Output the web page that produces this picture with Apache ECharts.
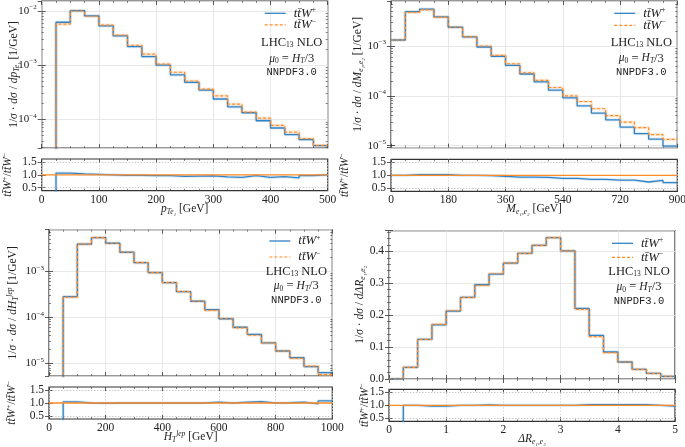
<!DOCTYPE html>
<html><head><meta charset="utf-8">
<script src="https://cdn.jsdelivr.net/npm/echarts@6/dist/echarts.min.js"></script>
<style>html,body{margin:0;padding:0;background:#fff}#c{width:685px;height:447px}</style>
</head><body><div id="c"></div>
<script>
// ---------------- data ----------------
const ptEdges = [0,25,50,75,100,125,150,175,200,225,250,275,300,325,350,375,400,425,450,475,500];
const ptWp = [0,6.2e-3,1.02e-2,8.1e-3,5.3e-3,3.47e-3,2.2e-3,1.44e-3,1.0e-3,6.6e-4,4.8e-4,3.47e-4,2.37e-4,1.7e-4,1.32e-4,9.4e-5,6.9e-5,5.2e-5,4.2e-5,3.25e-5];
const ptWm = [0,5.7e-3,1.0e-2,8.0e-3,5.5e-3,3.6e-3,2.33e-3,1.6e-3,1.04e-3,7.4e-4,5.1e-4,3.6e-4,2.7e-4,1.9e-4,1.36e-4,1.05e-4,7.7e-5,5.8e-5,4.4e-5,3.3e-5];
const ptRatio = [0,1.07,1.04,1.02,1.0,0.98,0.98,0.97,0.97,0.94,0.95,0.96,0.92,0.90,0.97,0.90,0.93,0.88,0.97,1.0];

const mEdges = [0,45,90,135,180,225,270,315,360,405,450,495,540,585,630,675,720,765,810,855,900];
const mWp = [1.32e-3,4.9e-3,5.5e-3,3.84e-3,2.38e-3,1.52e-3,9.55e-4,6.2e-4,4.1e-4,2.74e-4,1.9e-4,1.3e-4,9.1e-5,6.3e-5,4.5e-5,3.3e-5,2.36e-5,1.75e-5,1.35e-5,9.8e-6];
const mWm = [1.32e-3,4.75e-3,5.3e-3,3.8e-3,2.38e-3,1.52e-3,1.0e-3,6.5e-4,4.4e-4,2.9e-4,2.04e-4,1.47e-4,1.0e-4,7.7e-5,5.5e-5,4.0e-5,2.97e-5,2.3e-5,1.66e-5,1.34e-5];
const mRatio = [1.0,1.03,1.03,1.03,1.0,1.0,0.99,0.96,0.93,0.93,0.92,0.88,0.88,0.84,0.84,0.81,0.81,0.74,0.80,0.72];

const htEdges = [0,50,100,150,200,250,300,350,400,450,500,550,600,650,700,750,800,850,900,950,1000];
const htWp = [0,2.8e-4,3.87e-3,5.4e-3,4.06e-3,2.59e-3,1.54e-3,9.35e-4,5.67e-4,3.61e-4,2.23e-4,1.47e-4,9.3e-5,6.07e-5,4.27e-5,2.77e-5,1.85e-5,1.33e-5,8.5e-6,6.27e-6];
const htWm = [0,2.75e-4,3.87e-3,5.4e-3,4.06e-3,2.59e-3,1.54e-3,9.35e-4,5.67e-4,3.61e-4,2.23e-4,1.42e-4,9.3e-5,5.9e-5,4.07e-5,2.77e-5,1.84e-5,1.28e-5,8.7e-6,5.7e-6];
const htRatio = [0,1.04,1.0,0.99,1.0,1.0,1.0,1.0,1.0,1.0,1.0,1.03,1.0,1.03,1.05,1.0,1.01,1.03,0.97,1.08];

const drEdges = [0,0.25,0.5,0.75,1,1.25,1.5,1.75,2,2.25,2.5,2.75,3,3.25,3.5,3.75,4,4.25,4.5,4.75,5];
const drWp = [0,0.0366,0.124,0.170,0.213,0.256,0.2955,0.329,0.3635,0.394,0.419,0.443,0.402,0.2214,0.1368,0.0846,0.0533,0.0303,0.0178,0.0084];
const drWm = [0,0.0366,0.124,0.171,0.214,0.256,0.2935,0.330,0.3635,0.394,0.419,0.443,0.402,0.218,0.1326,0.0825,0.0533,0.0303,0.0178,0.0086];
const drRatio = [0,1.0,0.97,0.97,1.0,1.0,1.02,1.0,1.0,1.0,1.0,1.0,1.0,1.03,1.03,1.03,1.03,1.03,1.0,0.97];

const ratioRef = 1.0;
const ratioTicks = [0.5, 1.0, 1.5];
const legendTexts = ['LHC{sub|13} NLO', '{i|μ}{sub|0} = {i|H}{subi|T}/3', 'NNPDF3.0'];

// ---------------- style ----------------
const SERIF = "'Liberation Serif','DejaVu Serif',serif";
const MONO = "'Liberation Mono','DejaVu Sans Mono',monospace";
const BLUE = '#3283c3', ORANGE = '#ff8a26';
const BLUE_L = 'rgba(50,131,195,0.16)', ORANGE_L = 'rgba(255,138,38,0.18)';
const INK = '#222';
const FS = 11.5;
const rich = {
  i: {fontFamily: SERIF, fontStyle: 'italic', fontSize: FS, lineHeight: 14, color: INK},
  li: {fontFamily: SERIF, fontStyle: 'italic', fontSize: 13, lineHeight: 14, color: INK},
  tk: {fontFamily: SERIF, fontSize: 11, lineHeight: 14, color: INK},
  sub: {fontFamily: SERIF, fontSize: 7.5, lineHeight: 7, verticalAlign: 'bottom', color: INK},
  subi: {fontFamily: SERIF, fontStyle: 'italic', fontSize: 7.5, lineHeight: 7, verticalAlign: 'bottom', color: INK},
  sup: {fontFamily: SERIF, fontSize: 7.5, lineHeight: 7, verticalAlign: 'top', color: INK},
  tsup: {fontFamily: SERIF, fontSize: 7, lineHeight: 7, verticalAlign: 'top', color: INK},
  supi: {fontFamily: SERIF, fontStyle: 'italic', fontSize: 7.5, lineHeight: 7, verticalAlign: 'top', color: INK}
};
const ratioName = '{i|tt\u0304W}{sup|+}/{i|tt\u0304W}{sup|−}';

const panels = [
  {edges: ptEdges, wp: ptWp, wm: ptWm, ratio: ptRatio, xMax: 500, xInt: 100, xMinor: 4,
   log: true, yMin: 2.95e-5, yMax: 1.53e-2,
   left: 41.7, top: 1, width: 286, height: 147, rTop: 159, rHeight: 31.7,
   xName: '{i|p}{subi|Te₁} [GeV]', yName: '1/{i|σ} · {i|dσ} / {i|dp}{subi|Te₁} [1/GeV]',
   yGap: 21, rGap: 27, xGap: 11, leg: [12.3, 23.8, 41.3, 57.5, 71.7]},
  {edges: mEdges, wp: mWp, wm: mWm, ratio: mRatio, xMax: 900, xInt: 180, xMinor: 4,
   log: true, yMin: 9.1e-6, yMax: 8.0e-3,
   left: 391, top: 1, width: 286.3, height: 146.7, rTop: 159.3, rHeight: 32,
   xName: '{i|M}{subi|e₁,e₂} [GeV]', yName: '1/{i|σ} · {i|dσ} / {i|dM}{subi|e₁,e₂} [1/GeV]',
   yGap: 26, rGap: 39, xGap: 11, leg: [12.3, 24.3, 41.3, 57.3, 71.7]},
  {edges: htEdges, wp: htWp, wm: htWm, ratio: htRatio, xMax: 1000, xInt: 200, xMinor: 4,
   log: true, yMin: 5.3e-6, yMax: 8.0e-3,
   left: 49, top: 229.7, width: 283.3, height: 146.3, rTop: 387, rHeight: 32,
   xName: '{i|H}{subi|T}{supi|lep} [GeV]', yName: '1/{i|σ} · {i|dσ} / {i|dH}{subi|T}{supi|lep} [1/GeV]',
   yGap: 29, rGap: 30, xGap: 11, leg: [11.3, 27.3, 41.6, 56.3, 71]},
  {edges: drEdges, wp: drWp, wm: drWm, ratio: drRatio, xMax: 5, xInt: 1, xMinor: 4,
   log: false, yMin: 0, yMax: 0.465, yInt: 0.1,
   left: 389, top: 230.7, width: 286, height: 148.3, rTop: 389.3, rHeight: 32,
   xName: '{i|ΔR}{subi|e₁,e₂}', yName: '1/{i|σ} · {i|dσ} / {i|dΔR}{subi|e₁,e₂}',
   yGap: 22, rGap: 17, xGap: 11, leg: [12.6, 26.6, 41, 56, 71]}
];

// ---------------- build ----------------
const grids = [], xAxes = [], yAxes = [], series = [], graphics = [];
const addX = o => (xAxes.push(o), xAxes.length - 1);
const addY = o => (yAxes.push(o), yAxes.length - 1);
const tick = {show: true, inside: true, length: 4, lineStyle: {color: '#333', width: 0.8}};
const minor = n => ({show: true, splitNumber: n, length: 2, lineStyle: {color: '#333', width: 0.6}});
const labelStyle = {fontFamily: SERIF, fontSize: FS, color: INK, rich: rich};
const nameStyle = {fontFamily: SERIF, fontSize: FS, color: INK, lineHeight: 14, rich: rich};

function stepData(edges, vals, floor) {
  return edges.map((e, i) => {
    let v = vals[Math.min(i, vals.length - 1)];
    if (floor && v <= 0) v = floor;
    return [e, v];
  });
}
function logMinor(min, max) {
  const out = [];
  for (let k = Math.floor(Math.log10(min)); k <= Math.ceil(Math.log10(max)); k++)
    for (let m = 2; m <= 9; m++) { const v = m * Math.pow(10, k); if (v > min && v < max) out.push(v); }
  return out;
}
function logLabel(v) {
  const e = Math.log10(v), r = Math.round(e);
  if (Math.abs(e - r) > 1e-6) return '';
  return '{tk|10}{tsup|' + (r < 0 ? '−' + (-r) : r) + '}';
}

panels.forEach(P => {
  const frame = {show: true, borderColor: '#333', borderWidth: 1.2, backgroundColor: 'transparent', containLabel: false, outerBoundsMode: 'none'};
  const gm = grids.length; grids.push(Object.assign({left: P.left, top: P.top, width: P.width, height: P.height}, frame));
  const gr = grids.length; grids.push(Object.assign({left: P.left, top: P.rTop, width: P.width, height: P.rHeight}, frame));

  const xb = {type: 'value', min: 0, max: P.xMax, interval: P.xInt, axisLine: {show: false}};
  const xm = addX(Object.assign({}, xb, {gridIndex: gm, position: 'bottom', axisLabel: {show: false}, axisTick: tick,
    minorTick: minor(P.xMinor), splitLine: {show: true, lineStyle: {color: '#e2e2e2', width: 0.8}}}));
  addX(Object.assign({}, xb, {gridIndex: gm, position: 'top', axisLabel: {show: false}, axisTick: tick, minorTick: minor(P.xMinor), splitLine: {show: false}}));
  let ym;
  const nameCommon = {name: P.yName, nameLocation: 'middle', nameGap: P.yGap, nameRotate: 90, nameMoveOverlap: false, nameTextStyle: nameStyle};
  if (P.log) {
    const yb = {type: 'log', logBase: 10, min: P.yMin, max: P.yMax, axisLine: {show: false}};
    ym = addY(Object.assign({}, yb, {gridIndex: gm, position: 'left', axisTick: tick,
      axisLabel: {show: true, margin: 5, formatter: logLabel, showMinLabel: false, showMaxLabel: false, ...labelStyle},
      splitLine: {show: true, lineStyle: {color: '#e2e2e2', width: 0.8}}}, nameCommon));
    addY(Object.assign({}, yb, {gridIndex: gm, position: 'right', axisTick: tick, axisLabel: {show: false}, splitLine: {show: false}}));
    const mv = logMinor(P.yMin, P.yMax);
    const mt = {show: true, inside: true, length: 2, customValues: mv, lineStyle: {color: '#333', width: 0.6}};
    addY(Object.assign({}, yb, {gridIndex: gm, position: 'left', axisTick: mt, axisLabel: {show: false}, splitLine: {show: false}}));
    addY(Object.assign({}, yb, {gridIndex: gm, position: 'right', axisTick: mt, axisLabel: {show: false}, splitLine: {show: false}}));
  } else {
    const yb = {type: 'value', min: P.yMin, max: P.yMax, interval: P.yInt, axisLine: {show: false}};
    ym = addY(Object.assign({}, yb, {gridIndex: gm, position: 'left', axisTick: tick, minorTick: minor(5),
      axisLabel: {show: true, margin: 5, formatter: v => (Math.abs(v / P.yInt - Math.round(v / P.yInt)) < 1e-6 ? v.toFixed(1) : ''), showMaxLabel: false, ...labelStyle},
      splitLine: {show: true, lineStyle: {color: '#e2e2e2', width: 0.8}}}, nameCommon));
    addY(Object.assign({}, yb, {gridIndex: gm, position: 'right', axisTick: tick, minorTick: minor(5), axisLabel: {show: false}, splitLine: {show: false}}));
  }
  const xr = addX(Object.assign({}, xb, {gridIndex: gr, position: 'bottom', axisTick: tick, minorTick: minor(P.xMinor),
    axisLabel: {show: true, margin: 3, formatter: v => String(v), ...labelStyle},
    splitLine: {show: true, lineStyle: {color: '#cfcfcf', width: 0.8, type: [1.5, 1.5]}},
    name: P.xName, nameLocation: 'middle', nameGap: P.xGap, nameMoveOverlap: false, nameTextStyle: nameStyle}));
  addX(Object.assign({}, xb, {gridIndex: gr, position: 'top', axisTick: tick, minorTick: minor(P.xMinor), axisLabel: {show: false}, splitLine: {show: false}}));
  const rb = {type: 'value', min: 0.38, max: 1.62, axisLine: {show: false}, splitLine: {show: false}};
  const yr = addY(Object.assign({}, rb, {gridIndex: gr, position: 'left',
    axisTick: Object.assign({}, tick, {customValues: ratioTicks}),
    axisLabel: {show: true, margin: 5, customValues: ratioTicks, formatter: v => v.toFixed(1), ...labelStyle},
    name: ratioName, nameLocation: 'middle', nameGap: P.rGap, nameRotate: 90, nameMoveOverlap: false, nameTextStyle: nameStyle}));
  addY(Object.assign({}, rb, {gridIndex: gr, position: 'right', axisTick: Object.assign({}, tick, {customValues: ratioTicks}), axisLabel: {show: false}}));

  const floor = P.log ? 1e-12 : null;
  const line = (data, xi, yi, color, width, dash, z) => ({
    type: 'line', xAxisIndex: xi, yAxisIndex: yi, data: data, step: 'end', showSymbol: false, symbol: 'none',
    clip: true, silent: true, animation: false, z: z,
    lineStyle: {color: color, width: width, type: dash ? [3, 2] : 'solid'}
  });
  const dWp = stepData(P.edges, P.wp, floor), dWm = stepData(P.edges, P.wm, floor);
  series.push(line(dWp, xm, ym, BLUE_L, 3.2, false, 2));
  series.push(line(dWm, xm, ym, ORANGE_L, 3.2, false, 2));
  series.push(line(dWp, xm, ym, BLUE, 1.3, false, 3));
  series.push(line(dWm, xm, ym, ORANGE, 1.2, true, 4));
  const dR = stepData(P.edges, P.ratio, null);
  const dRef = P.edges.map(e => [e, ratioRef]);
  const rl = line(dR, xr, yr, BLUE_L, 3.2, false, 2);
  rl.markLine = {silent: true, symbol: 'none', label: {show: false}, animation: false,
    lineStyle: {color: '#bdbdbd', width: 0.8, type: [1.5, 1.5]}, data: [{yAxis: 0.5}, {yAxis: 1.5}]};
  series.push(rl);
  series.push(line(dR, xr, yr, BLUE, 1.3, false, 3));
  series.push(line(dRef, xr, yr, ORANGE, 1.3, false, 4));

  const R = P.left + P.width, T = P.top;
  const rows = P.leg.map(o => T + o);
  graphics.push({type: 'line', shape: {x1: R - 63, y1: rows[0], x2: R - 42, y2: rows[0]}, style: {stroke: BLUE, lineWidth: 1.3}, z: 10});
  graphics.push({type: 'line', shape: {x1: R - 63, y1: rows[1], x2: R - 42, y2: rows[1]}, style: {stroke: ORANGE, lineWidth: 1.2, lineDash: [3, 2]}, z: 10});
  const txt = (s, x, y, align, extra) => ({type: 'text', z: 10, style: Object.assign({text: s, x: x, y: y, align: align, verticalAlign: 'middle',
    textAlign: align, textVerticalAlign: 'middle', fontFamily: SERIF, fontSize: 12.5, fill: INK, rich: rich}, extra || {})});
  graphics.push(txt('{li|tt\u0304W}{sup|+}', R - 34, rows[0], 'left'));
  graphics.push(txt('{li|tt\u0304W}{sup|−}', R - 34, rows[1], 'left'));
  graphics.push(txt(legendTexts[0], R - 36, rows[2], 'center'));
  graphics.push(txt(legendTexts[1], R - 36, rows[3], 'center'));
  graphics.push(txt(legendTexts[2], R - 36, rows[4], 'center', {fontFamily: MONO, fontSize: 10.5}));
});

const chart = echarts.init(document.getElementById('c'), null, {renderer: 'canvas'});
chart.setOption({
  animation: false,
  backgroundColor: '#fff',
  grid: grids, xAxis: xAxes, yAxis: yAxes, series: series, graphic: graphics
});
</script></body></html>
